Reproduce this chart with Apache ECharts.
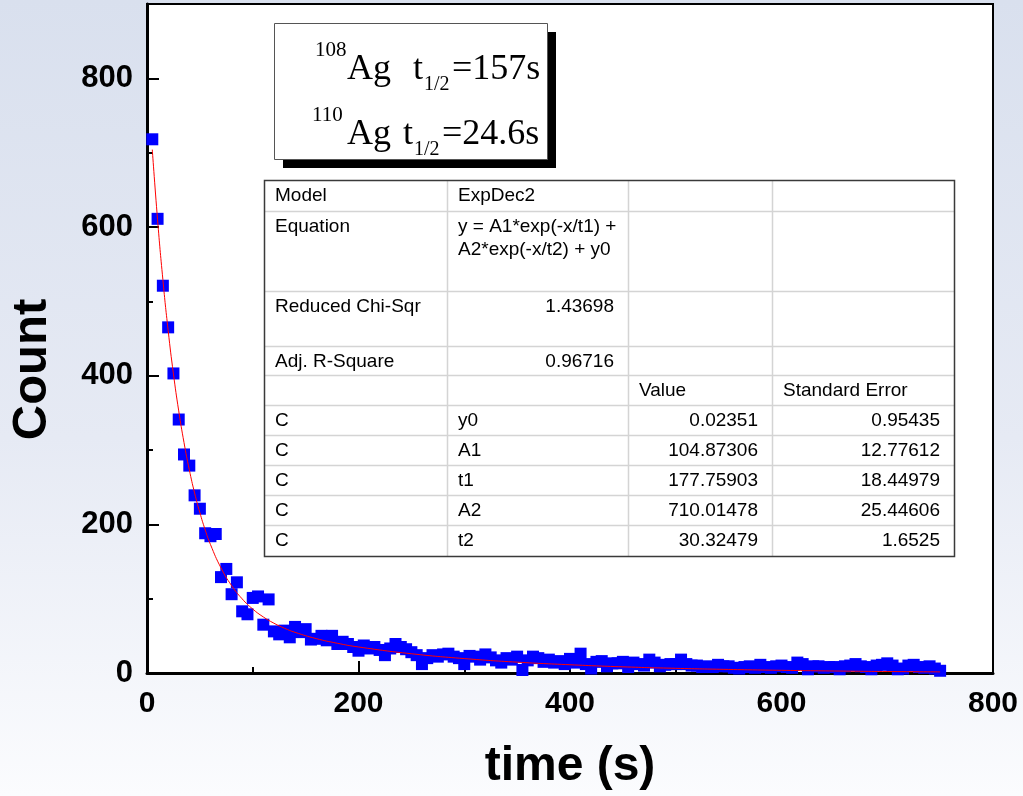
<!DOCTYPE html>
<html>
<head>
<meta charset="utf-8">
<script src="https://cdn.jsdelivr.net/npm/echarts@6/dist/echarts.min.js"></script>
<style>
html,body{margin:0;padding:0;background:#fff;}
#chart{width:1023px;height:796px;}
</style>
</head>
<body>
<div id="chart"></div>
<script>
// ---- data ----
const times = [
  5,10,15,20,25,30,35,40,45,50,
  55,60,65,70,75,80,85,90,95,100,
  105,110,115,120,125,130,135,140,145,150,
  155,160,165,170,175,180,185,190,195,200,
  205,210,215,220,225,230,235,240,245,250,
  255,260,265,270,275,280,285,290,295,300,
  305,310,315,320,325,330,335,340,345,350,
  355,360,365,370,375,380,385,390,395,400,
  405,410,415,420,425,430,435,440,445,450,
  455,460,465,470,475,480,485,490,495,500,
  505,510,515,520,525,530,535,540,545,550,
  555,560,565,570,575,580,585,590,595,600,
  605,610,615,620,625,630,635,640,645,650,
  655,660,665,670,675,680,685,690,695,700,
  705,710,715,720,725,730,735,740,745,750
];
const counts = [
  718,611,521,465,403,341,294,279,239,221,
  188,184,187,129,140,106,122,83,79,101,
  103,65,99,56,52,57,48,62,55,59,
  45,46,50,44,50,39,42,39,35,30,
  37,33,35,31,24,33,39,35,32,28,
  24,12,20,24,22,25,26,22,20,12,
  23,22,18,25,21,17,14,20,18,22,
  4,17,22,20,15,18,14,16,12,19,
  14,26,12,6,15,16,9,13,13,15,
  8,14,12,10,18,14,9,11,12,12,
  18,12,10,10,8,9,8,11,9,9,
  7,6,8,9,7,11,8,7,9,10,
  8,7,14,12,5,9,9,7,8,8,
  5,9,10,12,9,8,5,10,11,13,
  10,5,6,10,11,8,7,9,6,3
];
const fitTimes  = [5,10,15,20,25,30,35,40,45,50,55,60,70,80,90,100,110,120,130,140,160,180,200,250,300,350,400,450,500,550,600,650,700,750];
const fitCounts = [704.1,609.7,529.4,460.9,402.4,352.6,310.0,273.5,242.3,215.7,192.7,172.9,141.3,117.6,99.7,86.0,75.4,67.0,60.2,54.7,46.3,40.0,35.0,25.9,19.4,14.6,11.1,8.3,6.3,4.8,3.6,2.7,2.0,1.5];

const xTicks = [0,200,400,600,800];
const yMajorTicks = [0,200,400,600,800];
const yMinorTicks = [100,300,500,700];

const halfLife = [
  {mass:'108', t:'=157s'},
  {mass:'110', t:'=24.6s'}
];

const tableCols = [264, 447, 628, 772, 954];
const tableRows = [180, 211, 291, 346, 375, 405, 435, 465, 495, 525, 556];
const tableHead = [
  ['Model', 'ExpDec2'],
  ['Equation', 'y = A1*exp(-x/t1) +\nA2*exp(-x/t2) + y0'],
  ['Reduced Chi-Sqr', '1.43698'],
  ['Adj. R-Square', '0.96716']
];
const paramHeader = ['', '', 'Value', 'Standard Error'];
const paramNames  = ['y0','A1','t1','A2','t2'];
const paramValues = ['0.02351','104.87306','177.75903','710.01478','30.32479'];
const paramErrors = ['0.95435','12.77612','18.44979','25.44606','1.6525'];

// ---- build ----
const scatterData = times.map((t,i)=>[t, counts[i]]);
const fitData = fitTimes.map((t,i)=>[t, fitCounts[i]]);

const FONT = 'Liberation Sans, Arial, sans-serif';
const SERIF = 'Liberation Serif, Times New Roman, serif';
const TF = 19;

const graphics = [];
// annotation box with shadow
graphics.push({type:'rect', shape:{x:283, y:32, width:273, height:136}, style:{fill:'#000'}, z:10});
graphics.push({type:'rect', shape:{x:274.5, y:23.5, width:273, height:136}, style:{fill:'#fff', stroke:'#555', lineWidth:1}, z:11});
const lineBase = [88, 153];
halfLife.forEach((h, i) => {
  const b = lineBase[i];
  const dx = i === 0 ? 0 : -3;
  graphics.push({type:'text', z:12, style:{text:h.mass, x:315+dx, y:b-27, font:'21px '+SERIF, fill:'#000', textAlign:'left', verticalAlign:'bottom'}});
  graphics.push({type:'text', z:12, style:{text:'Ag', x:347, y:b, font:'36px '+SERIF, fill:'#000', textAlign:'left', verticalAlign:'bottom'}});
  const tx = i === 0 ? 413 : 403;
  graphics.push({type:'text', z:12, style:{text:'t', x:tx, y:b, font:'36px '+SERIF, fill:'#000', textAlign:'left', verticalAlign:'bottom'}});
  graphics.push({type:'text', z:12, style:{text:'1/2', x:tx+11, y:b+7, font:'20px '+SERIF, fill:'#000', textAlign:'left', verticalAlign:'bottom'}});
  graphics.push({type:'text', z:12, style:{text:h.t, x:tx+39, y:b, font:'36px '+SERIF, fill:'#000', textAlign:'left', verticalAlign:'bottom'}});
});

// table
const tL = tableCols[0], tR = tableCols[tableCols.length-1];
const tT = tableRows[0], tB = tableRows[tableRows.length-1];
graphics.push({type:'rect', z:10, shape:{x:tL, y:tT, width:tR-tL, height:tB-tT}, style:{fill:'#fff'}});
for (let r = 1; r < tableRows.length-1; r++) {
  graphics.push({type:'line', z:11, shape:{x1:tL, y1:tableRows[r]+0.5, x2:tR, y2:tableRows[r]+0.5}, style:{stroke:'#d4d4d4', lineWidth:1.5}});
}
for (let c = 1; c < tableCols.length-1; c++) {
  graphics.push({type:'line', z:11, shape:{x1:tableCols[c]+0.5, y1:tT, x2:tableCols[c]+0.5, y2:tB}, style:{stroke:'#d4d4d4', lineWidth:1.5}});
}
graphics.push({type:'rect', z:12, shape:{x:tL+0.5, y:tT+0.5, width:tR-tL, height:tB-tT}, style:{fill:'none', stroke:'#3a3a3a', lineWidth:1.5}});

function cellText(text, col, row, align) {
  const x = align === 'right' ? tableCols[col+1]-14 : tableCols[col]+11;
  graphics.push({type:'text', z:13, style:{text:text, x:x, y:tableRows[row]+4, font:TF+'px '+FONT, fill:'#000', textAlign:align, verticalAlign:'top', lineHeight:23}});
}
tableHead.forEach((row, r) => {
  cellText(row[0], 0, r, 'left');
  cellText(row[1], 1, r, r >= 2 ? 'right' : 'left');
});
paramHeader.forEach((h, c) => { if (h) cellText(h, c, 4, 'left'); });
paramNames.forEach((n, i) => {
  const r = 5 + i;
  cellText('C', 0, r, 'left');
  cellText(n, 1, r, 'left');
  cellText(paramValues[i], 2, r, 'right');
  cellText(paramErrors[i], 3, r, 'right');
});

const chart = echarts.init(document.getElementById('chart'), null, {renderer:'canvas'});
chart.setOption({
  animation: false,
  backgroundColor: new echarts.graphic.LinearGradient(0,0,0,1,[
    {offset:0, color:'#d9e0ee'},
    {offset:0.55, color:'#e6eaf4'},
    {offset:1, color:'#fbfcfe'}
  ]),
  grid: {left:147, top:4, right:30, bottom:120, show:true, backgroundColor:'#fff', borderColor:'#000', borderWidth:2},
  xAxis: {
    type:'value', min:0, max:800, interval:200,
    name:'time (s)', nameLocation:'middle', nameGap:70,
    nameTextStyle:{fontFamily:FONT, fontWeight:'bold', fontSize:48, color:'#000'},
    axisLine:{show:true, onZero:false, lineStyle:{color:'#000', width:3}},
    axisTick:{show:true, inside:true, length:12, lineStyle:{color:'#000', width:2}},
    minorTick:{show:true, splitNumber:2, length:6, lineStyle:{color:'#000', width:2}},
    axisLabel:{fontFamily:FONT, fontWeight:'bold', fontSize:30, color:'#000', margin:16,
      customValues: xTicks},
    splitLine:{show:false}, minorSplitLine:{show:false}
  },
  yAxis: [{
    type:'value', min:0, max:900, interval:100, position:'left',
    name:'Count', nameLocation:'middle', nameGap:90, nameRotate:90,
    nameTextStyle:{fontFamily:FONT, fontWeight:'bold', fontSize:49, color:'#000', padding:[0,62,0,0]},
    axisLine:{show:true, onZero:false, lineStyle:{color:'#000', width:3}},
    axisTick:{show:true, inside:true, length:12, lineStyle:{color:'#000', width:2}, customValues: yMajorTicks},
    axisLabel:{fontFamily:FONT, fontWeight:'bold', fontSize:31, color:'#000', margin:14, customValues: yMajorTicks},
    splitLine:{show:false}
  },{
    type:'value', min:0, max:900, interval:100, position:'left', offset:0,
    axisLine:{show:false},
    axisTick:{show:true, inside:true, length:6, lineStyle:{color:'#000', width:2}, customValues: yMinorTicks},
    axisLabel:{show:false},
    splitLine:{show:false}
  }],
  series: [{
    type:'scatter', name:'Counts', data:scatterData, symbol:'rect', symbolSize:[12,12],
    itemStyle:{color:'#0000ff', opacity:1}, z:2
  },{
    type:'line', name:'ExpDec2 fit', data:fitData, smooth:true, showSymbol:false, symbol:'none',
    lineStyle:{color:'#ff0000', width:1}, z:3
  }],
  graphic: graphics
});
</script>
</body>
</html>
